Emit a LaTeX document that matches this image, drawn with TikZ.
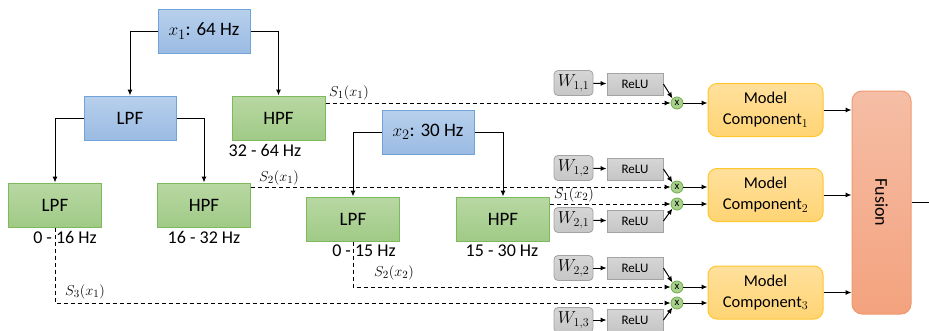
\documentclass[tikz,border=0pt]{standalone}
\usepackage{fontspec}
\setmainfont{Carlito}
\usetikzlibrary{arrows.meta,calc}
\definecolor{bluetop}{HTML}{B7D0EC}
\definecolor{bluebot}{HTML}{9BBBE3}
\definecolor{blueedge}{HTML}{6FA3DA}
\definecolor{greentop}{HTML}{B8D8A3}
\definecolor{greenbot}{HTML}{A0CA86}
\definecolor{greenedge}{HTML}{7DBA5E}
\definecolor{graytop}{HTML}{D6D6D6}
\definecolor{graybot}{HTML}{C6C6C6}
\definecolor{grayedge}{HTML}{A3A3A3}
\definecolor{yeltop}{HTML}{FFE09C}
\definecolor{yelbot}{HTML}{FFD474}
\definecolor{yeledge}{HTML}{FFC62E}
\definecolor{fustop}{HTML}{F5BEA6}
\definecolor{fusbot}{HTML}{F4A27E}
\definecolor{fusedge}{HTML}{EE9A70}
\definecolor{multfill}{HTML}{A9D18E}
\definecolor{multedge}{HTML}{70AD47}
\tikzset{
  bluebox/.style={draw=blueedge, line width=1pt, top color=bluetop, bottom color=bluebot, minimum width=92pt, minimum height=44pt, inner sep=0pt, font=\fontsize{19}{20}\selectfont},
  greenbox/.style={draw=greenedge, line width=1pt, top color=greentop, bottom color=greenbot, minimum width=93pt, minimum height=44pt, inner sep=0pt, font=\fontsize{19}{20}\selectfont},
  wbox/.style={draw=grayedge, line width=0.8pt, rounded corners=4pt, top color=graytop, bottom color=graybot, minimum width=39pt, minimum height=25pt, inner sep=0pt, font=\fontsize{18}{18}\selectfont},
  relubox/.style={draw=grayedge, line width=0.8pt, top color=graytop, bottom color=graybot, minimum width=56pt, minimum height=22pt, inner sep=0pt, font=\fontsize{13}{14}\selectfont},
  mult/.style={circle, draw=multedge, line width=0.8pt, fill=multfill, minimum size=12pt, inner sep=0pt, font=\fontsize{11}{11}\selectfont},
  mcbox/.style={draw=yeledge, line width=1pt, rounded corners=9pt, top color=yeltop, bottom color=yelbot, minimum width=115pt, minimum height=53pt, inner sep=0pt, align=center, font=\fontsize{16.5}{21}\selectfont},
  fusbox/.style={draw=fusedge, line width=1pt, rounded corners=10pt, top color=fustop, bottom color=fusbot, minimum width=59pt, minimum height=223pt, inner sep=0pt},
  hz/.style={font=\fontsize{18}{20}\selectfont, inner sep=0pt},
  slab/.style={font=\fontsize{15}{16}\selectfont, inner sep=0pt},
  arr/.style={line width=1pt, -{Latex[length=6pt,width=5pt]}},
  dsh/.style={line width=1pt, dash pattern=on 4pt off 3pt, -{Latex[length=6pt,width=5pt]}},
  plain/.style={line width=1pt}
}
\begin{document}
\begin{tikzpicture}[x=1pt,y=-1pt]
\useasboundingbox (0,0) rectangle (929,330);
% filter tree 1
\node[bluebox] (x1) at (204,31) {$x_1$: 64 Hz};
\node[bluebox] (lpf1) at (130,118) {LPF};
\node[greenbox] (hpf1) at (278.5,118) {HPF};
\node[greenbox] (lpf3) at (55,205) {LPF};
\node[greenbox] (hpf3) at (204,205) {HPF};
\node[hz] (l1) at (265,150) {32 - 64 Hz};
\node[hz] (l2) at (65,237) {0 - 16 Hz};
\node[hz] (l3) at (204,237) {16 - 32 Hz};
% filter tree 2
\node[bluebox] (x2) at (428,132) {$x_2$: 30 Hz};
\node[greenbox] (lpf2) at (353,219) {LPF};
\node[greenbox] (hpf2) at (503,219) {HPF};
\node[hz] (l4) at (364,251) {0 - 15 Hz};
\node[hz] (l5) at (502,251) {15 - 30 Hz};
% tree arrows
\draw[arr] (x1.west) -| (lpf1.north);
\draw[arr] (x1.east) -| (hpf1.north);
\draw[arr] (lpf1.west) -| (lpf3.north);
\draw[arr] (lpf1.east) -| (hpf3.north);
\draw[arr] (x2.west) -| (lpf2.north);
\draw[arr] (x2.east) -| (hpf2.north);
% weights and relu
\node[wbox] (w11) at (573.5,83) {$W_{1,1}$};
\node[wbox] (w12) at (573.5,168) {$W_{1,2}$};
\node[wbox] (w21) at (573.5,220) {$W_{2,1}$};
\node[wbox] (w22) at (573.5,268) {$W_{2,2}$};
\node[wbox] (w13) at (573.5,320) {$W_{1,3}$};
\node[relubox] (r11) at (635,84) {ReLU};
\node[relubox] (r12) at (635,169) {ReLU};
\node[relubox] (r21) at (635,221) {ReLU};
\node[relubox] (r22) at (635,268) {ReLU};
\node[relubox] (r13) at (635,320) {ReLU};
\node[mult] (m1) at (677,103) {x};
\node[mult] (m2a) at (677,187) {x};
\node[mult] (m2b) at (677,204) {x};
\node[mult] (m3a) at (677,287) {x};
\node[mult] (m3b) at (677,303) {x};
\draw[arr] (w11) -- (r11);
\draw[arr] (w12) -- (r12);
\draw[arr] (w21) -- (r21);
\draw[arr] (w22) -- (r22);
\draw[arr] (w13) -- (r13);
\draw[arr] (r11.east) -- (m1.north west);
\draw[arr] (r12.east) -- (m2a.north west);
\draw[arr] (r21.east) -- (m2b.south west);
\draw[arr] (r22.east) -- (m3a.north west);
\draw[arr] (r13.east) -- (m3b.south west);
% dashed signal lines
\draw[dsh] (hpf1.east |- m1) -- (m1.west);
\draw[dsh] (hpf3.east |- m2a) -- (m2a.west);
\draw[dsh] (hpf2.east |- m2b) -- (m2b.west);
\draw[dsh] (lpf2.south) |- (m3a.west);
\draw[dsh] (lpf3.south) |- (m3b.west);
\node[slab] (s11) at (349,93) {$S_1(x_1)$};
\node[slab] (s21) at (279,178) {$S_2(x_1)$};
\node[slab] (s12) at (574,195) {$S_1(x_2)$};
\node[slab] (s22) at (394,273) {$S_2(x_2)$};
\node[slab] (s31) at (85,292) {$S_3(x_1)$};
% model components
\node[mcbox] (mc1) at (765.5,110) {Model\\Component$_1$};
\node[mcbox] (mc2) at (765.5,195) {Model\\Component$_2$};
\node[mcbox] (mc3) at (765.5,292.5) {Model\\Component$_3$};
\draw[arr] (m1.east) -- (mc1.west |- m1);
\draw[arr] (m2a.east) -- (mc2.west |- m2a);
\draw[arr] (m2b.east) -- (mc2.west |- m2b);
\draw[arr] (m3a.east) -- (mc3.west |- m3a);
\draw[arr] (m3b.east) -- (mc3.west |- m3b);
% fusion
\node[fusbox] (fus) at (881.5,202.5) {};
\node[rotate=-90, font=\fontsize{18}{20}\selectfont] (fustxt) at (fus.center) {Fusion};
\draw[arr] (mc1.east) -- (fus.west |- mc1);
\draw[arr] (mc2.east) -- (fus.west |- mc2);
\draw[arr] (mc3.east) -- (fus.west |- mc3);
\coordinate (out) at (929,202.5);
\draw[plain] (fus.east) -- (out);
\end{tikzpicture}
\end{document}
